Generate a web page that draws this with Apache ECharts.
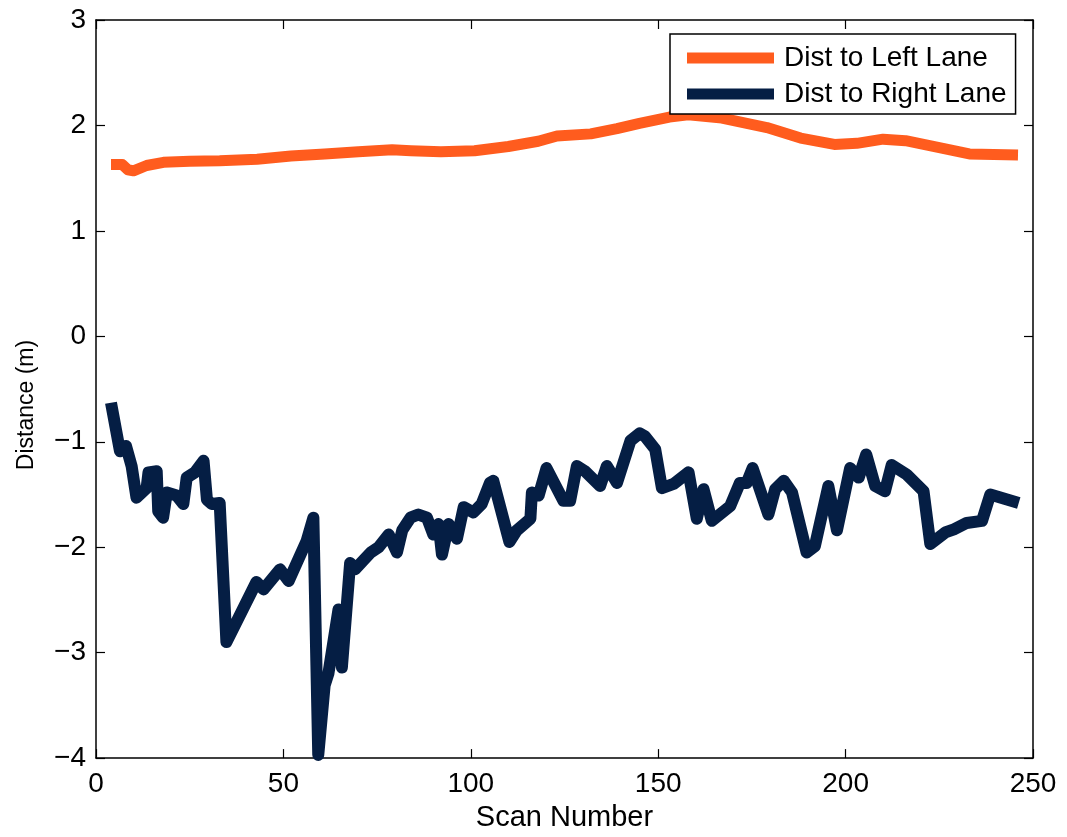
<!DOCTYPE html>
<html>
<head>
<meta charset="utf-8">
<title>Lane Distance per Scan</title>
<script src="https://cdn.jsdelivr.net/npm/echarts@6.0.0/dist/echarts.min.js"></script>
<style>
  html, body { margin: 0; padding: 0; background: #fff; }
  #chart { width: 1067px; height: 837px; }
</style>
</head>
<body>
<div id="chart"></div>
<script>
// Scan numbers and distance to the left lane marking (m)
const leftScan = [4, 7, 8.5, 10, 13.5, 18, 25, 33, 43, 52, 61, 70, 79, 84, 92, 101, 110, 118, 123, 132, 139, 145, 153, 158, 167, 179, 188, 197, 203, 210, 216, 225, 233, 246];
const leftDist = [1.63, 1.63, 1.58, 1.57, 1.62, 1.65, 1.66, 1.665, 1.68, 1.71, 1.73, 1.75, 1.77, 1.76, 1.75, 1.76, 1.80, 1.85, 1.90, 1.92, 1.97, 2.02, 2.08, 2.10, 2.07, 1.98, 1.88, 1.82, 1.83, 1.87, 1.855, 1.79, 1.73, 1.72];

// Scan numbers and distance to the right lane marking (m)
const rightScan = [4, 6.4, 8, 9.5, 10.8, 13.5, 14, 16.2, 16.6, 17.9, 18.9, 21.5, 23.3, 24.2, 26.4, 28.7, 29.6, 30.9, 33, 34.8, 42.8, 44.7, 49.1, 51.4, 56.2, 58, 59.3, 61, 62, 64.7, 65.6, 67.8, 69.1, 73.3, 75.4, 78.1, 80.3, 81.7, 83.9, 86, 88.3, 90, 91.4, 92.3, 94.1, 96.3, 98.1, 100.7, 102.9, 105.1, 106, 110.3, 112.3, 115.9, 116.3, 118.1, 120.2, 124.7, 126.5, 128.3, 130.5, 134.5, 136.3, 139, 142.6, 145.1, 146.5, 149.2, 151, 154.1, 158.1, 160.3, 162.1, 164.3, 169.2, 171.8, 173.6, 175.2, 179.4, 181.2, 183.5, 185.7, 189.6, 191.8, 195.4, 197.7, 201.2, 203.5, 205.5, 207.9, 210.5, 212.3, 216.3, 220.8, 222.6, 226.6, 228.9, 232.3, 236.4, 238.6, 246.2];
const rightDist = [-0.63, -1.09, -1.04, -1.23, -1.53, -1.44, -1.29, -1.28, -1.66, -1.72, -1.48, -1.51, -1.59, -1.34, -1.29, -1.18, -1.55, -1.59, -1.58, -2.9, -2.33, -2.40, -2.21, -2.32, -1.94, -1.72, -3.97, -3.31, -3.2, -2.59, -3.14, -2.15, -2.21, -2.05, -2.0, -1.88, -2.05, -1.84, -1.72, -1.69, -1.72, -1.88, -1.78, -2.07, -1.78, -1.92, -1.62, -1.67, -1.59, -1.39, -1.37, -1.95, -1.84, -1.73, -1.48, -1.51, -1.25, -1.56, -1.56, -1.23, -1.28, -1.42, -1.23, -1.39, -0.99, -0.92, -0.95, -1.07, -1.44, -1.40, -1.29, -1.73, -1.45, -1.75, -1.61, -1.39, -1.39, -1.25, -1.69, -1.45, -1.37, -1.48, -2.05, -1.99, -1.42, -1.84, -1.25, -1.34, -1.12, -1.42, -1.47, -1.22, -1.31, -1.47, -1.97, -1.86, -1.83, -1.77, -1.75, -1.50, -1.58];

// Axis tick values
const xTicks = [0, 50, 100, 150, 200, 250];
const yTicks = [-4, -3, -2, -1, 0, 1, 2, 3];

const seriesNames = ['Dist to Left Lane', 'Dist to Right Lane'];
const xTitle = 'Scan Number';
const yTitle = 'Distance (m)';

const FONT = '"Liberation Sans", Arial, Helvetica, sans-serif';
const pairs = (xs, ys) => xs.map((x, i) => [x, ys[i]]);
const fmtNum = v => (v < 0 ? '\u2212' + Math.abs(v) : String(v));

const xMin = xTicks[0], xMax = xTicks[xTicks.length - 1];
const yMin = yTicks[0], yMax = yTicks[yTicks.length - 1];
const xStep = xTicks[1] - xTicks[0], yStep = yTicks[1] - yTicks[0];

const axisLine = { show: true, onZero: false, lineStyle: { color: '#000', width: 1.5 } };
const axisTick = { show: true, inside: true, length: 9, lineStyle: { color: '#000', width: 1.2 } };

const chart = echarts.init(document.getElementById('chart'), null, { renderer: 'canvas' });
chart.setOption({
  animation: false,
  backgroundColor: '#fff',
  textStyle: { fontFamily: FONT },
  grid: { left: 96, top: 20, right: 34, bottom: 76, containLabel: false },
  legend: {
    orient: 'vertical',
    left: 670, top: 34,
    padding: [8, 9, 4, 17],
    itemWidth: 87, itemHeight: 11, itemGap: 4,
    icon: 'rect',
    itemStyle: { borderWidth: 0 },
    backgroundColor: '#fff',
    borderColor: '#000', borderWidth: 1.5, borderRadius: 0,
    textStyle: { fontSize: 28, lineHeight: 32, color: '#000', fontFamily: FONT, padding: [0, 0, 0, 5] },
    data: seriesNames
  },
  xAxis: [
    {
      type: 'value', position: 'bottom',
      min: xMin, max: xMax, interval: xStep,
      axisLine, axisTick,
      splitLine: { show: false },
      axisLabel: { fontSize: 28, color: '#000', margin: 12, fontFamily: FONT, formatter: fmtNum },
      name: xTitle, nameLocation: 'middle', nameGap: 38,
      nameTextStyle: { fontSize: 29, color: '#000', fontFamily: FONT }
    },
    {
      type: 'value', position: 'top',
      min: xMin, max: xMax, interval: xStep,
      axisLine, axisTick,
      splitLine: { show: false },
      axisLabel: { show: false }
    }
  ],
  yAxis: [
    {
      type: 'value', position: 'left',
      min: yMin, max: yMax, interval: yStep,
      axisLine, axisTick,
      splitLine: { show: false },
      axisLabel: { fontSize: 28, color: '#000', margin: 10, fontFamily: FONT, formatter: fmtNum },
      name: yTitle, nameLocation: 'middle', nameGap: 58, nameRotate: 90,
      // right padding nudges the rotated title a little lower along the axis
      nameTextStyle: { fontSize: 23, color: '#000', fontFamily: FONT, padding: [0, 32, 0, 0] }
    },
    {
      type: 'value', position: 'right',
      min: yMin, max: yMax, interval: yStep,
      axisLine, axisTick,
      splitLine: { show: false },
      axisLabel: { show: false }
    }
  ],
  series: [
    {
      name: seriesNames[0], type: 'line',
      xAxisIndex: 0, yAxisIndex: 0,
      data: pairs(leftScan, leftDist),
      showSymbol: false, symbol: 'none',
      color: '#FF5C1E',
      lineStyle: { width: 11, color: '#FF5C1E', join: 'round' },
      clip: true
    },
    {
      name: seriesNames[1], type: 'line',
      xAxisIndex: 0, yAxisIndex: 0,
      data: pairs(rightScan, rightDist),
      showSymbol: false, symbol: 'none',
      color: '#051E44',
      lineStyle: { width: 12, color: '#051E44', join: 'round' },
      clip: true
    }
  ]
});
</script>
</body>
</html>
